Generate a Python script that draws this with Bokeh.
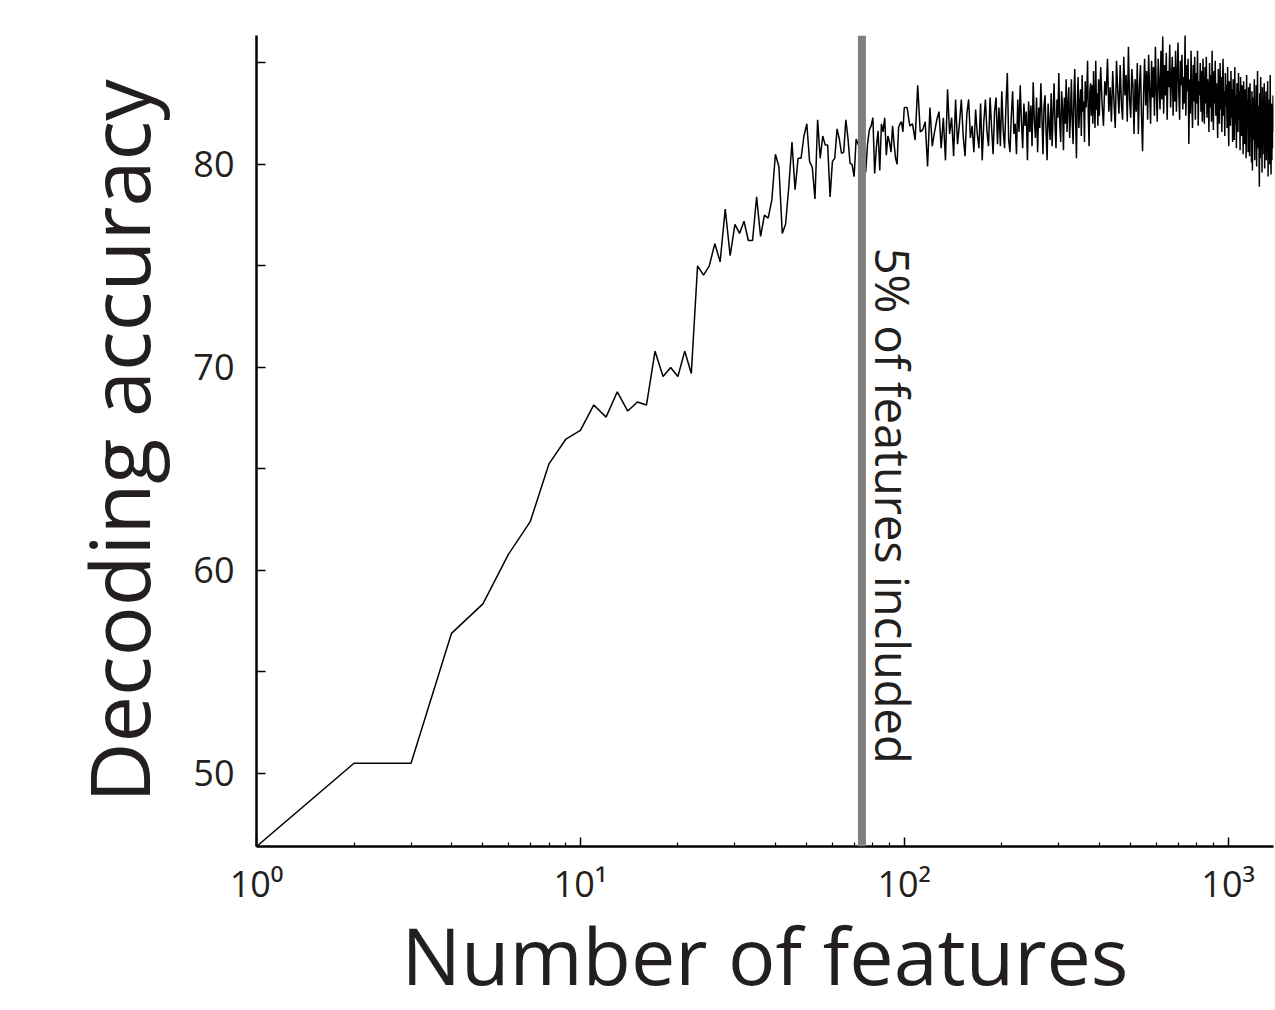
import math
from bokeh.plotting import figure
from bokeh.models import Span, FixedTicker
from bokeh.core.properties import value
from bokeh.embed import file_html
from bokeh.resources import INLINE

# ---- data ----
feat_low = list(range(1, 101))
acc_low = [
    46.4, 50.5, 50.5, 56.9, 58.35, 60.8, 62.4, 65.25, 66.45, 66.9,
    68.15, 67.55, 68.8, 67.85, 68.3, 68.15, 70.8, 69.55, 70.0, 69.55,
    70.8, 69.7, 75.0, 74.55, 75.0, 76.1, 75.2, 77.8, 75.5, 77.05,
    76.6, 77.2, 76.25, 76.25, 78.4, 76.45, 77.5, 77.35, 78.25, 80.5,
    79.9, 76.6, 77.05, 78.9, 81.1, 78.75, 80.3, 80.3, 81.4, 82.0,
    80.15, 79.85, 78.3, 82.2, 80.3, 81.4, 80.95, 80.95, 78.4, 80.15,
    80.3, 81.75, 81.25, 80.55, 80.6, 82.2, 81.3, 80.05, 80.0, 79.4,
    81.25, 81.0, 80.8, 81.2, 80.5, 79.6, 81.0, 81.7, 81.9, 82.3,
    79.55, 80.85, 81.65, 79.7, 82.0, 81.6, 82.3, 80.45, 81.4, 81.1,
    80.6, 81.9, 81.0, 80.3, 80.0, 81.8, 82.0, 82.1, 81.6, 82.8,
]

feat_mid = list(range(102, 400, 2))
acc_mid = [
    82.8, 81.9, 82.0, 81.2, 83.9, 81.6, 81.7, 82.1, 79.9, 82.8,
    80.9, 81.6, 82.2, 82.6, 80.8, 82.3, 80.2, 83.7, 81.5, 82.3,
    80.4, 83.2, 81.0, 82.0, 83.2, 81.4, 80.4, 82.5, 83.2, 81.3,
    81.9, 80.6, 82.7, 81.5, 80.8, 83.0, 80.2, 82.1, 83.2, 81.6,
    80.9, 83.3, 81.8, 80.5, 82.6, 83.3, 81.0, 82.8, 80.9, 83.6,
    81.7, 80.8, 82.9, 84.5, 81.2, 80.6, 82.4, 83.6, 81.5, 82.0,
    80.5, 83.2, 81.6, 83.9, 82.1, 80.8, 83.0, 81.9, 82.6, 80.2,
    83.1, 81.6, 82.9, 80.9, 84.05, 82.2, 81.3, 83.3, 80.6, 82.8,
    81.8, 84.0, 82.4, 80.5, 82.9, 83.4, 81.6, 80.2, 83.0, 82.0,
    81.2, 83.5, 80.9, 82.6, 84.0, 81.9, 80.8, 83.2, 82.3, 84.5,
    82.0, 81.1, 83.6, 82.8, 80.7, 83.3, 82.0, 84.2, 81.6, 82.9,
    83.8, 81.3, 82.5, 84.2, 82.1, 81.0, 83.4, 84.7, 82.2, 80.3,
    83.0, 84.3, 81.8, 82.9, 83.7, 81.4, 84.4, 82.6, 83.1, 81.1,
    84.1, 82.8, 83.5, 85.1, 82.3, 80.9, 83.6, 84.0, 82.4, 83.9,
    82.0, 84.6, 83.1, 81.8, 85.1, 82.7, 83.5, 81.9, 84.2,
]

feat_high = list(range(400, 1381, 4))
acc_high = [
    82.4, 84.8, 83.0, 81.9, 84.1, 83.4, 85.2, 82.6, 83.8, 82.1,
    84.6, 83.1, 81.8, 85.1, 83.6, 82.5, 84.9, 83.0, 82.2, 85.3,
    83.4, 84.4, 82.1, 85.8, 83.2, 82.3, 84.7, 83.9, 81.5, 84.2,
    82.6, 85.0, 81.5, 83.8, 84.9, 82.4, 80.65, 83.5, 85.2, 82.9,
    84.6, 82.2, 85.4, 83.7, 82.0, 85.1, 83.3, 84.8, 82.4, 85.8,
    83.6, 82.1, 85.2, 84.0, 82.7, 85.6, 83.2, 86.3, 82.5, 84.9,
    83.4, 85.5, 82.2, 84.6, 83.8, 85.9, 82.8, 84.2, 85.3, 82.4,
    84.8, 83.1, 85.6, 82.6, 84.4, 86.0, 83.5, 82.2, 85.1, 83.9,
    85.4, 82.7, 84.3, 83.0, 86.4, 82.4, 84.9, 83.6, 85.2, 81.0,
    84.2, 82.5, 85.6, 83.3, 81.8, 84.9, 83.1, 85.3, 82.2, 84.5,
    83.0, 85.6, 81.9, 84.1, 83.4, 85.0, 82.6, 84.6, 82.1, 85.2,
    83.4, 82.0, 84.8, 83.0, 85.3, 82.3, 84.2, 83.6, 81.6, 85.0,
    82.8, 84.4, 82.1, 85.6, 83.2, 81.7, 84.6, 83.0, 85.1, 82.4,
    84.0, 82.9, 81.3, 84.7, 83.3, 82.0, 85.0, 82.7, 84.3, 81.6,
    83.8, 85.2, 82.4, 83.6, 81.4, 84.5, 82.9, 83.9, 81.8, 84.8,
    82.6, 80.9, 84.1, 83.2, 81.9, 84.6, 82.3, 83.7, 81.1, 84.2,
    82.7, 81.2, 84.8, 82.0, 83.4, 80.8, 84.0, 82.5, 81.6, 84.5,
    82.2, 83.6, 80.7, 84.3, 82.0, 81.4, 83.9, 82.8, 80.5, 84.1,
    82.4, 81.0, 83.7, 82.9, 80.3, 84.4, 81.8, 83.2, 80.6, 83.8,
    82.1, 80.4, 84.0, 81.5, 82.9, 80.1, 83.6, 79.7, 82.6, 83.3,
    81.2, 84.2, 80.2, 82.7, 81.6, 83.9, 79.9, 82.3, 84.6, 80.8,
    82.9, 81.4, 78.9, 83.5, 80.3, 84.3, 81.0, 82.4, 79.6, 83.8,
    80.5, 82.8, 81.2, 84.0, 79.8, 82.1, 80.9, 83.6, 80.2, 82.7,
    81.5, 84.1, 79.4, 82.6, 80.7, 83.2, 80.0, 84.4, 81.3, 79.5,
    83.0, 80.2, 82.5, 80.8, 83.4, 81.6,
]

cutoff = 74  # 5% of features
cutoff_label = "5% of features included"
cutoff_label_x = 92.6   # label sits just right of the cut-off line
cutoff_label_y = 75.9

x_title = "Number of features"
y_title = "Decoding accuracy"

x_ticks = [1, 10, 100, 1000]
x_tick_labels = {1: "10\u2070", 10: "10\u00b9", 100: "10\u00b2", 1000: "10\u00b3"}
x_minor = [m * d for d in (1, 10, 100) for m in range(2, 10)]
y_ticks = [50, 55, 60, 65, 70, 75, 80, 85]
y_tick_labels = {50: "50", 55: "", 60: "60", 65: "", 70: "70", 75: "", 80: "80", 85: ""}

features = feat_low + feat_mid + feat_high
accuracy = acc_low + acc_mid + acc_high

FONT = "Open Sans"
INK = "#231f20"

p = figure(width=1275, height=1010, x_axis_type="log",
           x_range=(1, 1380), y_range=(46.4, 86.35),
           output_backend="svg", toolbar_location=None,
           min_border_left=256, min_border_top=35,
           min_border_right=2, min_border_bottom=164)
p.outline_line_color = None
p.grid.visible = False

p.line(features, accuracy, line_color="black", line_width=1.5)
p.add_layout(Span(location=cutoff, dimension="height",
                  line_color="#808080", line_width=8))
p.text(x=[cutoff_label_x], y=[cutoff_label_y], text=[cutoff_label],
       angle=-math.pi / 2,
       text_align="left", text_baseline="middle",
       text_font=value(FONT), text_font_size="47px", text_color=INK)

xa = p.xaxis[0]
xa.ticker = FixedTicker(ticks=x_ticks, minor_ticks=x_minor)
xa.major_label_overrides = x_tick_labels
xa.axis_label = x_title

ya = p.yaxis[0]
ya.ticker = FixedTicker(ticks=y_ticks)
ya.major_label_overrides = y_tick_labels
ya.axis_label = y_title

for ax in (xa, ya):
    ax.axis_line_width = 2.5
    ax.axis_line_color = "black"
    ax.major_tick_in = 9
    ax.major_tick_out = 0
    ax.major_tick_line_width = 1.5
    ax.major_tick_line_color = "black"
    ax.minor_tick_in = 4
    ax.minor_tick_out = 0
    ax.minor_tick_line_width = 1.2
    ax.major_label_text_font = FONT
    ax.major_label_text_font_size = "36px"
    ax.major_label_text_color = INK
    ax.axis_label_text_font = FONT
    ax.axis_label_text_font_style = "normal"
    ax.axis_label_text_color = INK

xa.axis_label_text_font_size = "79px"
ya.axis_label_text_font_size = "83px"
xa.major_label_standoff = 12
xa.axis_label_standoff = -10
ya.major_label_standoff = 22
ya.axis_label_standoff = 16
ya.minor_tick_line_color = None

open("out.html", "w").write(file_html(p, INLINE))
